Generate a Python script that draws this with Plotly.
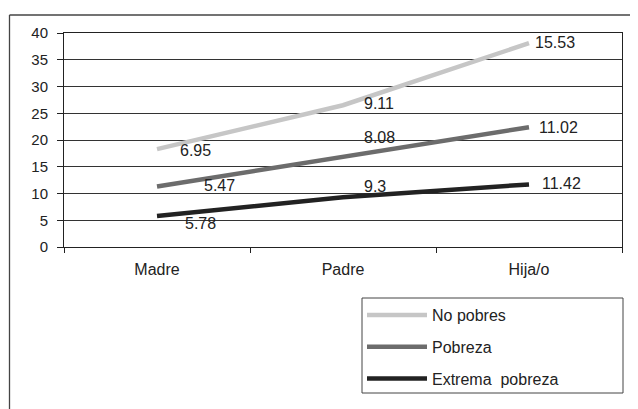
import plotly.graph_objects as go

categories = ["Madre", "Padre", "Hija/o"]
no_pobres = [18.3, 26.5, 38.1]
pobreza = [11.3, 16.9, 22.4]
extrema = [5.8, 9.3, 11.7]
no_pobres_labels = ["6.95", "9.11", "15.53"]
pobreza_labels = ["5.47", "8.08", "11.02"]
extrema_labels = ["5.78", "9.3", "11.42"]
y_ticks = [0, 5, 10, 15, 20, 25, 30, 35, 40]

FONT = "Liberation Sans, Arial, sans-serif"
TXT = "#222222"
FS = 16

series = [
    ("No pobres", no_pobres, no_pobres_labels, "#c6c6c6", [(21, -1), (19, 2), (4, 1)]),
    ("Pobreza", pobreza, pobreza_labels, "#6c6c6c", [(45, 1), (19, 19), (8, 0)]),
    ("Extrema\u00a0 pobreza", extrema, extrema_labels, "#222222", [(26, -8), (19, 11), (11, 1)]),
]

# page has an 8px body margin, so the figure is 8px smaller and shifted
W, H = 630, 401
L, T, R, B = 56, 25, 16, 162
PW, PH = W - L - R, H - T - B


def px2paper_x(x):
    return (x - 8 - L) / PW


def px2paper_y(y):
    return 1 - (y - 8 - T) / PH


fig = go.Figure()
annotations = []
for i, (name, vals, labels, color, offs) in enumerate(series):
    fig.add_trace(go.Scatter(
        x=categories, y=vals, mode="lines", name=name,
        line=dict(color=color, width=4.5), legendgroup=f"g{i}",
    ))
    for c, v, lab, (dx, dy) in zip(categories, vals, labels, offs):
        annotations.append(dict(
            x=c, y=v, text=lab, showarrow=False, xanchor="left", yanchor="middle",
            xshift=dx, yshift=dy, font=dict(family=FONT, size=FS, color=TXT),
        ))

fig.update_layout(
    width=W, height=H,
    margin=dict(l=L, r=R, t=T, b=B, autoexpand=False),
    paper_bgcolor="white", plot_bgcolor="white",
    font=dict(family=FONT, size=FS, color=TXT),
    showlegend=True,
    legend=dict(
        x=px2paper_x(362), y=px2paper_y(298), xanchor="left", yanchor="top",
        borderwidth=0, bgcolor="rgba(0,0,0,0)",
        font=dict(family=FONT, size=FS, color=TXT),
        tracegroupgap=8, itemwidth=60,
    ),
    annotations=annotations,
    shapes=[
        dict(type="line", xref="paper", yref="paper",
             x0=px2paper_x(9.5), x1=px2paper_x(637), y0=px2paper_y(15), y1=px2paper_y(15),
             line=dict(color="#444444", width=1.5)),
        dict(type="line", xref="paper", yref="paper",
             x0=px2paper_x(9.5), x1=px2paper_x(9.5), y0=px2paper_y(15), y1=px2paper_y(700),
             line=dict(color="#444444", width=1.3)),
        dict(type="rect", xref="paper", yref="paper",
             x0=px2paper_x(362), x1=px2paper_x(623), y0=px2paper_y(393), y1=px2paper_y(298),
             line=dict(color="#444444", width=1)),
    ],
)
fig.update_xaxes(
    type="category", range=[-0.5, 2.5], tickson="boundaries", ticks="outside", ticklen=5,
    tickcolor="#222", showline=True, linecolor="#222", linewidth=1,
    mirror=True, showgrid=False, ticklabelstandoff=8,
    tickfont=dict(family=FONT, size=FS, color=TXT),
)
fig.update_yaxes(
    range=[0, 40], tickvals=y_ticks, ticks="outside", ticklen=6,
    tickcolor="#222", showline=True, linecolor="#222", linewidth=1,
    mirror=True, showgrid=True, gridcolor="#333333", gridwidth=1,
    zeroline=False, ticklabelstandoff=6,
    tickfont=dict(family=FONT, size=15, color=TXT),
)

fig.write_html("out.html")
